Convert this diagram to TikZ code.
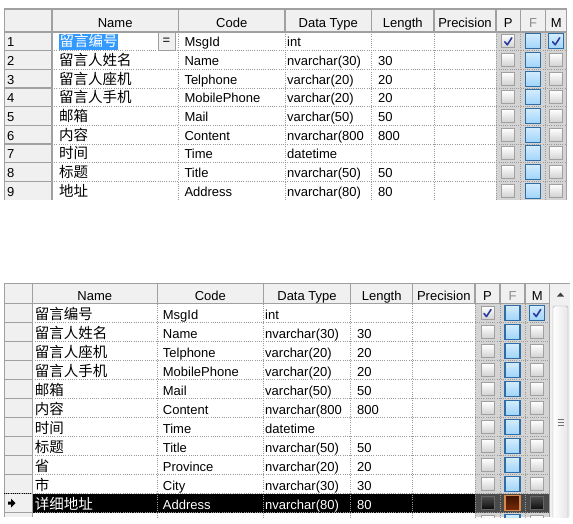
\documentclass[tikz,border=0pt]{standalone}
\usepackage{fontspec}
\setmainfont{Liberation Sans}
\newfontfamily\cjk{Noto Sans CJK SC}

\definecolor{rahmen}{HTML}{A0A0A0}
\definecolor{flaeche}{HTML}{F0F0F0}
\definecolor{punktgrau}{HTML}{9A9A9A}
\definecolor{spalte}{HTML}{D4D4D4}
\definecolor{auswahl}{HTML}{3399FF}
\definecolor{hellblau}{HTML}{9FD4FA}
\definecolor{randblau}{HTML}{2E6DA8}
\definecolor{haken}{HTML}{2A3A9E}
\definecolor{braun}{HTML}{7A2A06}
\definecolor{randorange}{HTML}{D9894A}
\definecolor{dunkel}{HTML}{4A4A4A}

\begin{document}
\begin{tikzpicture}[x=1pt, y=-1pt,
    schrift/.style={font=\fontsize{13}{15}\selectfont},
    kopf/.style={schrift, inner sep=0pt, anchor=base},
    zelle/.style={schrift, inner sep=0pt, anchor=base west},
    zeichen/.style={font=\cjk\fontsize{14.5}{16}\selectfont, inner sep=0pt, anchor=base west},
    steg/.style={draw=rahmen, line width=1.5pt},
    punkte/.style={draw=punktgrau, line width=0.7pt, dash pattern=on 1pt off 1.2pt},
    kasten/.style={draw=rahmen, line width=1pt, inner sep=0pt, minimum size=13pt,
        top color=white, bottom color=black!18},
    blau/.style={draw=randblau, line width=1.3pt, inner sep=0pt, minimum size=15pt,
        top color=hellblau!45, bottom color=hellblau},
    schwarzkasten/.style={draw=black!60, line width=1pt, inner sep=0pt, minimum size=13pt,
        top color=black!70, bottom color=black!95},
    braunkasten/.style={draw=randorange, line width=1.3pt, inner sep=0pt, minimum size=15pt,
        top color=braun!50!black, bottom color=braun},
    knopf/.style={draw=rahmen, fill=flaeche, inner sep=0pt, minimum width=17pt,
        minimum height=18pt, schrift},
    haekchen/.style={draw=haken, line width=1.6pt, line cap=round, line join=round}
]
\useasboundingbox (0,0) rectangle (573,523);

% obere Tabelle
\fill[white] (4,9) rectangle (566.7,200);
\fill[flaeche] (4,9) rectangle (566.7,32);
\fill[flaeche] (4,32) rectangle (52,200);
\fill[spalte] (496,32) rectangle (566.7,200);
\foreach \y in {50.67,69.33,88,106.67,125.33,144,162.67,181.33} {
    \draw[punkte] (52,\y) -- (566.7,\y);
    \draw[steg] (4,\y) -- (52,\y);
}
\foreach \x in {178.3,285,371.7,434,496,520.7,545.7}
    \draw[punkte] (\x,32) -- (\x,200);
\foreach \x in {52,178.3,285,371.7,434,496,520.7,545.7,566.7}
    \draw[steg] (\x,9) -- (\x,32);
\draw[steg] (4,9) -- (566.7,9);
\draw[steg] (4,32) -- (566.7,32);
\draw[steg] (52,32) -- (52,200);
\draw[steg] (566.7,32) -- (566.7,200);
\draw[draw=rahmen] (4,9) -- (4,200);

\node[kopf] (tk1) at (115.2,27.5) {Name};
\node[kopf] (tk2) at (231.7,27.5) {Code};
\node[kopf] (tk3) at (328.3,27.5) {Data Type};
\node[kopf] (tk4) at (402.8,27.5) {Length};
\node[kopf] (tk5) at (465,27.5) {Precision};
\node[kopf] (tk6) at (508.3,27.5) {P};
\node[kopf, text=black!45] (tk7) at (533.2,27.5) {F};
\node[kopf] (tk8) at (556.2,27.5) {M};

\node[zelle] (tz1) at (7,46.7) {1};
\node[zeichen, fill=auswahl, text=white, inner xsep=0.5pt, text height=12.5pt, text depth=3.5pt]
    (tn1) at (58.8,46.7) {留言编号};
\node[knopf] (gleich) at (166.5,41.3) {=};
\node[zelle] (tc1) at (184.3,46.7) {MsgId};
\node[zelle] (tt1) at (287,46.7) {int};

\node[zelle] (tz2) at (7,65.3) {2};
\node[zeichen] (tn2) at (58.8,65.3) {留言人姓名};
\node[zelle] (tc2) at (184.3,65.3) {Name};
\node[zelle] (tt2) at (287,65.3) {nvarchar(30)};
\node[zelle] (tl2) at (378,65.3) {30};

\node[zelle] (tz3) at (7,84) {3};
\node[zeichen] (tn3) at (58.8,84) {留言人座机};
\node[zelle] (tc3) at (184.3,84) {Telphone};
\node[zelle] (tt3) at (287,84) {varchar(20)};
\node[zelle] (tl3) at (378,84) {20};

\node[zelle] (tz4) at (7,102.7) {4};
\node[zeichen] (tn4) at (58.8,102.7) {留言人手机};
\node[zelle] (tc4) at (184.3,102.7) {MobilePhone};
\node[zelle] (tt4) at (287,102.7) {varchar(20)};
\node[zelle] (tl4) at (378,102.7) {20};

\node[zelle] (tz5) at (7,121.3) {5};
\node[zeichen] (tn5) at (58.8,121.3) {邮箱};
\node[zelle] (tc5) at (184.3,121.3) {Mail};
\node[zelle] (tt5) at (287,121.3) {varchar(50)};
\node[zelle] (tl5) at (378,121.3) {50};

\node[zelle] (tz6) at (7,140) {6};
\node[zeichen] (tn6) at (58.8,140) {内容};
\node[zelle] (tc6) at (184.3,140) {Content};
\node[zelle] (tt6) at (287,140) {nvarchar(800};
\node[zelle] (tl6) at (378,140) {800};

\node[zelle] (tz7) at (7,158.7) {7};
\node[zeichen] (tn7) at (58.8,158.7) {时间};
\node[zelle] (tc7) at (184.3,158.7) {Time};
\node[zelle] (tt7) at (287,158.7) {datetime};

\node[zelle] (tz8) at (7,177.3) {8};
\node[zeichen] (tn8) at (58.8,177.3) {标题};
\node[zelle] (tc8) at (184.3,177.3) {Title};
\node[zelle] (tt8) at (287,177.3) {nvarchar(50)};
\node[zelle] (tl8) at (378,177.3) {50};

\node[zelle] (tz9) at (7,196) {9};
\node[zeichen] (tn9) at (58.8,196) {地址};
\node[zelle] (tc9) at (184.3,196) {Address};
\node[zelle] (tt9) at (287,196) {nvarchar(80)};
\node[zelle] (tl9) at (378,196) {80};

\node[kasten] (tp1) at (508.3,41.3) {};
\node[blau] (tm1) at (556.2,41.3) {};
\draw[haekchen] ([shift={(-3.5,0.5)}]tp1.center) -- ([shift={(-1,3.5)}]tp1.center) -- ([shift={(3.5,-3.5)}]tp1.center);
\draw[haekchen] ([shift={(-3.5,0.5)}]tm1.center) -- ([shift={(-1,3.5)}]tm1.center) -- ([shift={(3.5,-3.5)}]tm1.center);
\foreach \i/\y in {1/41.3,2/60,3/78.7,4/97.3,5/116,6/134.7,7/153.3,8/172,9/190.7}
    \node[blau] (tf\i) at (533.2,\y) {};
\foreach \i/\y in {2/60,3/78.7,4/97.3,5/116,6/134.7,7/153.3,8/172,9/190.7} {
    \node[kasten] (tp\i) at (508.3,\y) {};
    \node[kasten] (tm\i) at (556.2,\y) {};
}

% untere Tabelle
\begin{scope}
\clip (0,280) rectangle (573,517);
\fill[white] (4,283.5) rectangle (549.3,517);
\fill[flaeche] (4,283.5) rectangle (570,303.5);
\fill[flaeche] (4,303.5) rectangle (32.3,517);
\fill[spalte] (475,303.5) rectangle (549.3,517);
\fill[black] (32.3,493.5) rectangle (475,512.5);
\fill[dunkel] (475,493.5) rectangle (549.3,512.5);
\foreach \y in {322.5,341.5,360.5,379.5,398.5,417.5,436.5,455.5,474.5,493.5,512.5} {
    \draw[punkte] (32.3,\y) -- (549.3,\y);
    \draw[steg] (4,\y) -- (32.3,\y);
}
\foreach \x in {157.3,263.3,350.7,412.7,475,500,525}
    \draw[punkte] (\x,303.5) -- (\x,517);
\foreach \x in {32.3,157.3,263.3,350.7,412.7,475,500,525,549.3}
    \draw[steg] (\x,283.5) -- (\x,303.5);
\draw[steg] (4,283.5) -- (570,283.5);
\draw[steg] (4,303.5) -- (549.3,303.5);
\draw[steg] (32.3,303.5) -- (32.3,517);
\draw[draw=rahmen] (4,283.5) -- (4,517);
\draw[punkte, draw=black] (4,493.5) -- (32.3,493.5);

% Rollbalken
\fill[flaeche] (549.3,303.5) rectangle (570,517);
\draw[steg] (549.3,303.5) -- (549.3,517);
\draw[draw=rahmen, left color=white, right color=black!10, rounded corners=1.5pt]
    (553,306) rectangle (568,530);
\fill[black!75] (557,296.5) -- (564,296.5) -- (560.5,292.5) -- cycle;
\foreach \y in {419.5,422.5,425.5}
    \draw[draw=black!55] (557.5,\y) -- (563.5,\y);

% Zeiger vor der aktuellen Zeile
\fill[black] (8,501.5) -- (11,501.5) -- (11,498.5) -- (15.5,503) -- (11,507.5) -- (11,504.5) -- (8,504.5) -- cycle;

\node[kopf] (uk1) at (94.8,300.8) {Name};
\node[kopf] (uk2) at (210.3,300.8) {Code};
\node[kopf] (uk3) at (307,300.8) {Data Type};
\node[kopf] (uk4) at (381.7,300.8) {Length};
\node[kopf] (uk5) at (443.8,300.8) {Precision};
\node[kopf] (uk6) at (487.5,300.8) {P};
\node[kopf, text=black!45] (uk7) at (512.5,300.8) {F};
\node[kopf] (uk8) at (537.2,300.8) {M};

\node[zeichen] (un1) at (34.7,319) {留言编号};
\node[zelle] (uc1) at (162.7,319) {MsgId};
\node[zelle] (ut1) at (265,319) {int};

\node[zeichen] (un2) at (34.7,338) {留言人姓名};
\node[zelle] (uc2) at (162.7,338) {Name};
\node[zelle] (ut2) at (265,338) {nvarchar(30)};
\node[zelle] (ul2) at (357,338) {30};

\node[zeichen] (un3) at (34.7,357) {留言人座机};
\node[zelle] (uc3) at (162.7,357) {Telphone};
\node[zelle] (ut3) at (265,357) {varchar(20)};
\node[zelle] (ul3) at (357,357) {20};

\node[zeichen] (un4) at (34.7,376) {留言人手机};
\node[zelle] (uc4) at (162.7,376) {MobilePhone};
\node[zelle] (ut4) at (265,376) {varchar(20)};
\node[zelle] (ul4) at (357,376) {20};

\node[zeichen] (un5) at (34.7,395) {邮箱};
\node[zelle] (uc5) at (162.7,395) {Mail};
\node[zelle] (ut5) at (265,395) {varchar(50)};
\node[zelle] (ul5) at (357,395) {50};

\node[zeichen] (un6) at (34.7,414) {内容};
\node[zelle] (uc6) at (162.7,414) {Content};
\node[zelle] (ut6) at (265,414) {nvarchar(800};
\node[zelle] (ul6) at (357,414) {800};

\node[zeichen] (un7) at (34.7,433) {时间};
\node[zelle] (uc7) at (162.7,433) {Time};
\node[zelle] (ut7) at (265,433) {datetime};

\node[zeichen] (un8) at (34.7,452) {标题};
\node[zelle] (uc8) at (162.7,452) {Title};
\node[zelle] (ut8) at (265,452) {nvarchar(50)};
\node[zelle] (ul8) at (357,452) {50};

\node[zeichen] (un9) at (34.7,471) {省};
\node[zelle] (uc9) at (162.7,471) {Province};
\node[zelle] (ut9) at (265,471) {nvarchar(20)};
\node[zelle] (ul9) at (357,471) {20};

\node[zeichen] (un10) at (34.7,490) {市};
\node[zelle] (uc10) at (162.7,490) {City};
\node[zelle] (ut10) at (265,490) {nvarchar(30)};
\node[zelle] (ul10) at (357,490) {30};

\node[zeichen, text=white] (un11) at (34.7,509) {详细地址};
\node[zelle, text=white] (uc11) at (162.7,509) {Address};
\node[zelle, text=white] (ut11) at (265,509) {nvarchar(80)};
\node[zelle, text=white] (ul11) at (357,509) {80};

\node[kasten] (up1) at (487.5,313) {};
\node[blau] (um1) at (537.2,313) {};
\draw[haekchen] ([shift={(-3.5,0.5)}]up1.center) -- ([shift={(-1,3.5)}]up1.center) -- ([shift={(3.5,-3.5)}]up1.center);
\draw[haekchen] ([shift={(-3.5,0.5)}]um1.center) -- ([shift={(-1,3.5)}]um1.center) -- ([shift={(3.5,-3.5)}]um1.center);
\foreach \i/\y in {1/313,2/332,3/351,4/370,5/389,6/408,7/427,8/446,9/465,10/484,12/522}
    \node[blau] (uf\i) at (512.5,\y) {};
\foreach \i/\y in {2/332,3/351,4/370,5/389,6/408,7/427,8/446,9/465,10/484,12/522} {
    \node[kasten] (up\i) at (487.5,\y) {};
    \node[kasten] (um\i) at (537.2,\y) {};
}
\node[schwarzkasten] (up11) at (487.5,503) {};
\node[braunkasten] (uf11) at (512.5,503) {};
\node[schwarzkasten] (um11) at (537.2,503) {};
\end{scope}
\end{tikzpicture}
\end{document}
